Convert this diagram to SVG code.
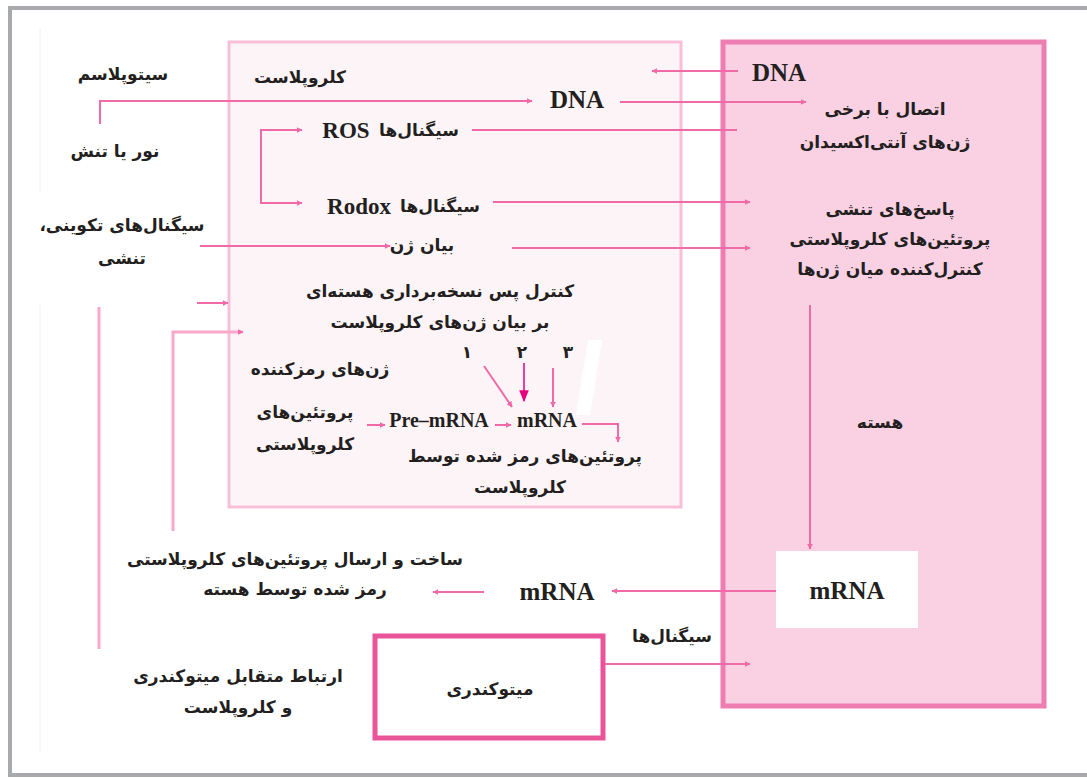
<svg xmlns="http://www.w3.org/2000/svg" width="1087" height="778" viewBox="0 0 1087 778">
<style>
.fa{font-family:"DejaVu Sans",sans-serif;font-size:17px;font-weight:bold;fill:#231f20;text-anchor:middle;direction:rtl}
.en{font-family:"Liberation Serif",serif;font-weight:bold;fill:#231f20;text-anchor:middle}
.ln{fill:none;stroke:#f06aa7;stroke-width:2}
.lnl{fill:none;stroke:#f7a8cb;stroke-width:3}
</style>
<defs>
<marker id="ah" viewBox="0 0 10 10" refX="9" refY="5" markerWidth="6" markerHeight="6" orient="auto" markerUnits="userSpaceOnUse">
<path d="M0,0 L10,5 L0,10 z" fill="#f06aa7"/>
</marker>
<marker id="ah2" viewBox="0 0 10 10" refX="9" refY="5" markerWidth="12" markerHeight="12" orient="auto" markerUnits="userSpaceOnUse">
<path d="M0,1 L10,5 L0,9 z" fill="#e6007e"/>
</marker>
</defs>
<rect width="1087" height="778" fill="#fff"/>
<g id="frame">
<path d="M1087,8 H10 V775 H1087" fill="none" stroke="#a7a9ac" stroke-width="4"/>
<line x1="40" y1="28" x2="40" y2="192" stroke="#f2eef0" stroke-width="1"/>
<line x1="40" y1="305" x2="40" y2="752" stroke="#f2eef0" stroke-width="1"/>
</g>
<g id="chloroplast">
<rect x="229" y="42" width="452" height="465" fill="#fdf4f8" stroke="#f9bfd9" stroke-width="3"/>
<text class="fa" x="300" y="83">کلروپلاست</text>
</g>
<g id="nucleus">
<rect x="723" y="42" width="321" height="664" fill="#f9d1e3" stroke="#ee7db2" stroke-width="5"/>
<text class="fa" x="880" y="428">هسته</text>
</g>
<g id="mrna-box">
<rect x="776" y="551" width="142" height="77" fill="#fff"/>
<text class="en" x="847" y="599" font-size="25">mRNA</text>
</g>
<g id="mitochondria">
<rect x="375" y="636" width="228" height="102" fill="#fff" stroke="#ea5499" stroke-width="5"/>
<text class="fa" x="490" y="695">میتوکندری</text>
</g>
<g id="connectors">
<line class="ln" x1="738" y1="71" x2="652" y2="71" marker-end="url(#ah)"/>
<path class="ln" d="M100,124 V101 H532" marker-end="url(#ah)"/>
<line class="ln" x1="620" y1="102" x2="806" y2="102" marker-end="url(#ah)"/>
<line class="ln" x1="472" y1="130" x2="737" y2="130"/>
<path class="ln" d="M302,130 H261 V203 H302" marker-end="url(#ah)"/>
<line class="ln" x1="262" y1="130" x2="302" y2="130" marker-end="url(#ah)"/>
<line class="ln" x1="493" y1="202" x2="750" y2="202" marker-end="url(#ah)"/>
<line class="ln" x1="200" y1="246" x2="390" y2="246" marker-end="url(#ah)"/>
<line class="ln" x1="512" y1="248" x2="750" y2="248" marker-end="url(#ah)"/>
<line class="ln" x1="197" y1="303" x2="228" y2="303" marker-end="url(#ah)"/>
<path class="lnl" d="M173,531 V332 H243" marker-end="url(#ah)"/>
<line class="lnl" x1="99" y1="307" x2="99" y2="649"/>
<line class="ln" x1="484" y1="366" x2="512" y2="407" stroke-width="1.5" marker-end="url(#ah)"/>
<line x1="524" y1="363" x2="524" y2="401" stroke="#e6007e" stroke-width="1.5" marker-end="url(#ah2)"/>
<line class="ln" x1="553" y1="368" x2="553" y2="407" stroke-width="1.5" marker-end="url(#ah)"/>
<line class="ln" x1="367" y1="425" x2="385" y2="425" marker-end="url(#ah)"/>
<line class="ln" x1="495" y1="425" x2="511" y2="425" marker-end="url(#ah)"/>
<path class="ln" d="M582,424 H618 V442" marker-end="url(#ah)"/>
<line class="ln" x1="810" y1="305" x2="810" y2="549" marker-end="url(#ah)"/>
<line class="ln" x1="776" y1="591" x2="612" y2="591" marker-end="url(#ah)"/>
<line class="ln" x1="484" y1="592" x2="433" y2="592" marker-end="url(#ah)"/>
<line class="ln" x1="605" y1="664" x2="750" y2="664" marker-end="url(#ah)"/>
</g>
<polygon points="588,340 602,340 590,415 576,415" fill="#fff"/>
<g id="labels">
<text class="fa" x="123" y="80">سیتوپلاسم</text>
<text class="fa" x="115" y="157">نور یا تنش</text>
<text class="en" x="779" y="81" font-size="25">DNA</text>
<text class="en" x="577" y="108" font-size="25">DNA</text>
<text class="en" x="346" y="138" font-size="23">ROS</text>
<text class="fa" x="419" y="136">سیگنال‌ها</text>
<text class="en" x="359" y="214" font-size="23">Rodox</text>
<text class="fa" x="440" y="212">سیگنال‌ها</text>
<text class="fa" x="122" y="231">سیگنال‌های تکوینی،</text>
<text class="fa" x="122" y="264">تنشی</text>
<text class="fa" x="422" y="251">بیان ژن</text>
<text class="fa" x="885" y="115">اتصال با برخی</text>
<text class="fa" x="885" y="148">ژن‌های آنتی‌اکسیدان</text>
<text class="fa" x="890" y="215">پاسخ‌های تنشی</text>
<text class="fa" x="890" y="245">پروتئین‌های کلروپلاستی</text>
<text class="fa" x="890" y="275">کنترل‌کننده میان ژن‌ها</text>
<text class="fa" x="440" y="297">کنترل پس نسخه‌برداری هسته‌ای</text>
<text class="fa" x="440" y="328">بر بیان ژن‌های کلروپلاست</text>
<text class="fa" x="467" y="358">۱</text>
<text class="fa" x="522" y="358">۲</text>
<text class="fa" x="568" y="358">۳</text>
<text class="fa" x="320" y="375">ژن‌های رمزکننده</text>
<text class="fa" x="305" y="418">پروتئین‌های</text>
<text class="fa" x="305" y="450">کلروپلاستی</text>
<text class="en" x="439" y="427" font-size="20">Pre–mRNA</text>
<text class="en" x="547" y="427" font-size="20">mRNA</text>
<text class="fa" x="525" y="462">پروتئین‌های رمز شده توسط</text>
<text class="fa" x="520" y="493">کلروپلاست</text>
<text class="fa" x="295" y="565">ساخت و ارسال پروتئین‌های کلروپلاستی</text>
<text class="fa" x="295" y="595">رمز شده توسط هسته</text>
<text class="en" x="557" y="600" font-size="25">mRNA</text>
<text class="fa" x="672" y="642">سیگنال‌ها</text>
<text class="fa" x="238" y="682">ارتباط متقابل میتوکندری</text>
<text class="fa" x="238" y="713">و کلروپلاست</text>
</g>
</svg>
